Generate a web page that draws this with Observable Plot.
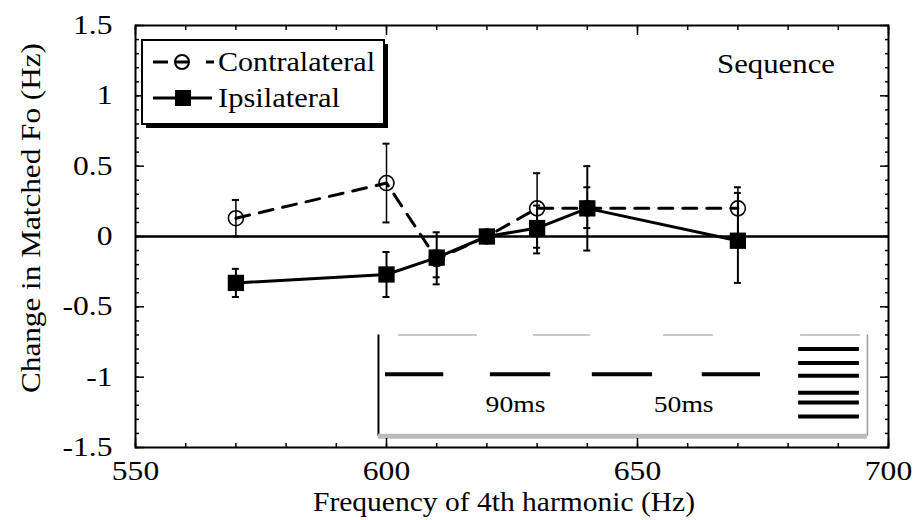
<!DOCTYPE html>
<html><head><meta charset="utf-8">
<script src="https://cdn.jsdelivr.net/npm/d3@7"></script>
<script src="https://cdn.jsdelivr.net/npm/@observablehq/plot@0.6"></script>
<style>body{margin:0;background:#fff}</style>
</head><body><div id="chart"></div>
<script>
// ---- data ----
const freqs = [570, 600, 610, 620, 630, 640, 670];
const contraMean = [0.13, 0.38, -0.16, 0.0, 0.20, 0.20, 0.20];
const contraLow  = [0.00, 0.10, -0.29, -0.04, -0.08, 0.06, 0.00];
const contraHigh = [0.26, 0.66, -0.10, 0.04, 0.45, 0.35, 0.35];
const ipsiMean = [-0.33, -0.27, -0.15, 0.00, 0.06, 0.20, -0.03];
const ipsiLow  = [-0.43, -0.43, -0.34, -0.04, -0.12, -0.10, -0.33];
const ipsiHigh = [-0.23, -0.11, 0.03, 0.04, 0.22, 0.50, 0.31];

const xTicks = [550, 600, 650, 700];
const xTickLabels = ["550", "600", "650", "700"];
const yTicks = [-1.5, -1, -0.5, 0, 0.5, 1, 1.5];
const yTickLabels = ["-1.5", "-1", "-0.5", "0", "0.5", "1", "1.5"];
const xMinor = d3.range(550, 701, 10);
const yMinor = d3.range(-15, 16, 1).map(d => d / 10);

const seriesNames = ["Contralateral", "Ipsilateral"];
const cornerLabel = "Sequence";
const xTitle = "Frequency of 4th harmonic (Hz)";
const yTitle = "Change in Matched Fo (Hz)";

// inset stimulus schematic (in chart units)
const insetGrayTop = [[602.4, 618.1], [629.3, 640.6], [655.2, 665.1], [682.5, 694.4]];
const insetGrayTopY = -0.70;
const insetDashes = [[599.8, 611.4], [620.7, 632.7], [641.0, 653.0], [662.9, 674.5]];
const insetDashY = -0.98;
const insetStackY = [-0.80, -0.90, -0.99, -1.11, -1.18, -1.28];
const insetStackX = [682.1, 694.2];
const insetBox = {left: 598.4, right: 695.8, top: -0.70, bottom: -1.42};
const insetLabels = ["90ms", "50ms"];
const insetLabelX = [625.7, 659.2];
const insetLabelY = -1.19;

// ---- build ----
const contra = freqs.map((f, i) => ({f, m: contraMean[i], lo: contraLow[i], hi: contraHigh[i]}));
const ipsi = freqs.map((f, i) => ({f, m: ipsiMean[i], lo: ipsiLow[i], hi: ipsiHigh[i]}));
const font = "'Liberation Serif', 'Times New Roman', serif";
const capHalf = 0.7;

const tickAxis = (fn, anchor, values, size) => fn(values, {anchor, tickSize: -size, tickFormat: () => "", label: null, strokeWidth: 1.5});

const svg = Plot.plot({
  width: 917, height: 520,
  marginTop: 25, marginRight: 29, marginBottom: 73, marginLeft: 135,
  x: {domain: [550, 700], axis: null},
  y: {domain: [-1.5, 1.5], axis: null},
  style: {fontFamily: font, background: "#fff", color: "#000"},
  marks: [
    // inset
    Plot.ruleY(insetGrayTop, {y: () => insetGrayTopY, x1: d => d[0], x2: d => d[1], stroke: "#b5b5b5", strokeWidth: 1.5}),
    Plot.ruleY(insetDashes, {y: () => insetDashY, x1: d => d[0], x2: d => d[1], stroke: "#000", strokeWidth: 4}),
    Plot.ruleY(insetStackY, {y: d => d, x1: insetStackX[0], x2: insetStackX[1], stroke: "#000", strokeWidth: 4}),
    Plot.ruleX([insetBox.left], {x: d => d, y1: insetBox.bottom, y2: insetBox.top, stroke: "#000", strokeWidth: 2}),
    Plot.ruleX([insetBox.right], {x: d => d, y1: insetBox.bottom, y2: insetBox.top, stroke: "#999", strokeWidth: 1.5}),
    Plot.ruleY([insetBox.bottom], {y: d => d, x1: insetBox.left, x2: insetBox.right, stroke: "#bbb", strokeWidth: 5}),
    Plot.text(insetLabels, {x: (d, i) => insetLabelX[i], y: () => insetLabelY, text: d => d, fontSize: 24, fontFamily: font, fill: "#000", className: "inset-label"}),
    // zero line
    Plot.ruleY([0], {strokeWidth: 2.5}),
    // series lines
    Plot.line(contra, {x: "f", y: "m", strokeWidth: 3, strokeDasharray: "14,10"}),
    Plot.line(ipsi, {x: "f", y: "m", strokeWidth: 3}),
    // error bars contralateral
    Plot.ruleX(contra, {x: "f", y1: "lo", y2: "hi", strokeWidth: 1.5}),
    Plot.ruleY(contra, {y: "lo", x1: d => d.f - capHalf, x2: d => d.f + capHalf, strokeWidth: 2}),
    Plot.ruleY(contra, {y: "hi", x1: d => d.f - capHalf, x2: d => d.f + capHalf, strokeWidth: 2}),
    Plot.dot(contra, {x: "f", y: "m", r: 7.5, fill: "none", stroke: "#000", strokeWidth: 1.6}),
    // ipsilateral
    Plot.ruleX(ipsi, {x: "f", y1: "lo", y2: "hi", strokeWidth: 2}),
    Plot.ruleY(ipsi, {y: "lo", x1: d => d.f - capHalf, x2: d => d.f + capHalf, strokeWidth: 2}),
    Plot.ruleY(ipsi, {y: "hi", x1: d => d.f - capHalf, x2: d => d.f + capHalf, strokeWidth: 2}),
    Plot.dot(ipsi, {x: "f", y: "m", r: 9.2, symbol: "square", fill: "#000", stroke: "none"}),
    // inward ticks
    tickAxis(Plot.axisX, "bottom", xMinor, 4),
    tickAxis(Plot.axisX, "top", xMinor, 4),
    tickAxis(Plot.axisY, "left", yMinor, 4),
    tickAxis(Plot.axisY, "right", yMinor, 4),
    tickAxis(Plot.axisX, "bottom", xTicks, 9),
    tickAxis(Plot.axisX, "top", xTicks, 9),
    tickAxis(Plot.axisY, "left", yTicks, 9),
    tickAxis(Plot.axisY, "right", yTicks, 9),
    // tick labels
    Plot.axisX(xTicks, {anchor: "bottom", tickSize: 0, tickPadding: 13, label: null, fontSize: 27, fontFamily: font,
      className: "tick-lbl", tickFormat: d => xTickLabels[xTicks.indexOf(d)]}),
    Plot.axisY(yTicks, {anchor: "left", tickSize: 0, tickPadding: 23, label: null, fontSize: 27, fontFamily: font,
      className: "tick-lbl", tickFormat: d => yTickLabels[yTicks.indexOf(d)]}),
    Plot.frame({strokeWidth: 2})
  ]
});

const s = d3.select(svg);
const addText = (parent, x, y, str, width, size = 28, anchor = "start", transform = null) => {
  const t = parent.append("text").attr("font-family", font).attr("font-size", size)
    .attr("fill", "#000").attr("text-anchor", anchor).text(str);
  if (transform) t.attr("transform", transform); else t.attr("x", x).attr("y", y);
  if (width) t.attr("textLength", width).attr("lengthAdjust", "spacingAndGlyphs");
  return t;
};
// axis titles
addText(s, 504, 511, xTitle, 382, 27, "middle");
addText(s, 0, 0, yTitle, 350, 28, "middle", "translate(40,218) rotate(-90)");
// corner label
addText(s, 717, 73, cornerLabel, 118, 28);
// legend
const lg = s.append("g");
lg.append("rect").attr("x", 146).attr("y", 44).attr("width", 242).attr("height", 84).attr("fill", "#000");
lg.append("rect").attr("x", 142).attr("y", 40).attr("width", 242).attr("height", 84)
  .attr("fill", "#fff").attr("stroke", "#000").attr("stroke-width", 2);
[[153, 168], [176, 188], [206, 214]].forEach(([a, b]) =>
  lg.append("line").attr("x1", a).attr("x2", b).attr("y1", 62).attr("y2", 62).attr("stroke", "#000").attr("stroke-width", 3));
lg.append("circle").attr("cx", 182).attr("cy", 62).attr("r", 7).attr("fill", "none").attr("stroke", "#000").attr("stroke-width", 2);
addText(lg, 218, 71, seriesNames[0], 157, 28);
lg.append("line").attr("x1", 153).attr("x2", 212).attr("y1", 98).attr("y2", 98).attr("stroke", "#000").attr("stroke-width", 3);
lg.append("rect").attr("x", 175).attr("y", 90).attr("width", 16).attr("height", 16).attr("fill", "#000");
addText(lg, 218, 107, seriesNames[1], 122, 28);

document.getElementById("chart").appendChild(svg);

// widen the tick labels and inset labels horizontally, like the scanned original
s.selectAll(".tick-lbl text, g.tick-lbl text").each(function () {
  const w = this.getComputedTextLength();
  if (w > 0) d3.select(this).attr("textLength", w * 1.17).attr("lengthAdjust", "spacingAndGlyphs");
});
s.selectAll(".inset-label text, g.inset-label text").each(function () {
  const w = this.getComputedTextLength();
  if (w > 0) d3.select(this).attr("textLength", w * 1.15).attr("lengthAdjust", "spacingAndGlyphs");
});
</script>
</body></html>
